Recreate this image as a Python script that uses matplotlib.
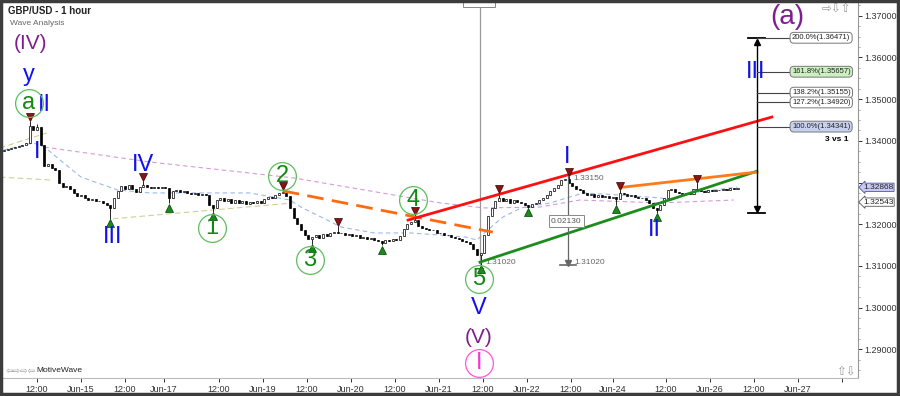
import numpy as np
import matplotlib.pyplot as plt
from matplotlib.patches import Rectangle
import matplotlib.transforms as mtransforms

plt.rcParams['font.family'] = ['Liberation Sans', 'DejaVu Sans']

# hourly GBP/USD candles (open of a bar = close of the bar before)
first_open = 1.3376
closes = [
    1.3378, 1.3380, 1.3383, 1.3385, 1.3388, 1.3391, 1.3395, 1.3435, 1.3425, 1.3432,
    1.3390, 1.3340, 1.3345, 1.3335, 1.3330, 1.3300, 1.3290, 1.3292, 1.3285, 1.3275,
    1.3268, 1.3270, 1.3262, 1.3258, 1.3260, 1.3255, 1.3256, 1.3252, 1.3245, 1.3240,
    1.3262, 1.3280, 1.3292, 1.3285, 1.3295, 1.3285, 1.3278, 1.3290, 1.3295, 1.3290,
    1.3288, 1.3290, 1.3287, 1.3289, 1.3286, 1.3262, 1.3280, 1.3282, 1.3278, 1.3280,
    1.3276, 1.3272, 1.3275, 1.3270, 1.3272, 1.3270, 1.3245, 1.3240, 1.3258, 1.3262,
    1.3255, 1.3260, 1.3252, 1.3258, 1.3250, 1.3255, 1.3248, 1.3253, 1.3250, 1.3256,
    1.3252, 1.3260, 1.3265, 1.3262, 1.3270, 1.3276, 1.3276, 1.3268, 1.3240, 1.3215,
    1.3200, 1.3185, 1.3175, 1.3165, 1.3170, 1.3175, 1.3168, 1.3176, 1.3172, 1.3178,
    1.3182, 1.3180, 1.3178, 1.3175, 1.3177, 1.3172, 1.3174, 1.3168, 1.3170, 1.3165,
    1.3167, 1.3162, 1.3160, 1.3155, 1.3162, 1.3160, 1.3165, 1.3163, 1.3172, 1.3188,
    1.3200, 1.3205, 1.3210, 1.3195, 1.3192, 1.3188, 1.3185, 1.3186, 1.3180, 1.3178,
    1.3175, 1.3173, 1.3170, 1.3167, 1.3164, 1.3160, 1.3158, 1.3152, 1.3140, 1.3125,
    1.3130, 1.3175, 1.3220, 1.3240, 1.3255, 1.3262, 1.3255, 1.3260, 1.3252, 1.3258,
    1.3254, 1.3250, 1.3246, 1.3242, 1.3248, 1.3252, 1.3258, 1.3264, 1.3270, 1.3280,
    1.3288, 1.3293, 1.3305, 1.3308, 1.3300, 1.3292, 1.3285, 1.3282, 1.3275, 1.3270,
    1.3272, 1.3266, 1.3270, 1.3265, 1.3268, 1.3262, 1.3265, 1.3260, 1.3275, 1.3272,
    1.3268, 1.3270, 1.3265, 1.3262, 1.3264, 1.3258, 1.3250, 1.3240, 1.3235, 1.3245,
    1.3262, 1.3282, 1.3285, 1.3278, 1.3275, 1.3272, 1.3276, 1.3273, 1.3285, 1.3282,
    1.3280, 1.3278, 1.3282, 1.3280, 1.3283, 1.3281, 1.3285, 1.3283, 1.3286, 1.3284,
    1.3287,
]
wick_hi = {7: 1.3447, 9: 1.3440, 38: 1.3303, 76: 1.3282, 91: 1.3195, 112: 1.3222,
           135: 1.3274, 154: 1.3315, 168: 1.3281, 189: 1.3299}
wick_lo = {29: 1.3212, 45: 1.3250, 57: 1.3229, 84: 1.3153, 103: 1.3149, 130: 1.3102,
           143: 1.3239, 167: 1.3246, 178: 1.3227}

# swing markers (bar indices)
top_marks = [7, 38, 76, 91, 112, 135, 154, 168, 189]
bottom_marks = [29, 45, 57, 84, 103, 130, 143, 167, 178]

# moving averages
ma_fast_x = [0, 8, 11, 21, 31, 40, 67, 78, 81, 92, 101, 111, 119, 126, 129, 131, 136,
             141, 149, 158, 168, 179, 182, 187, 200]
ma_fast_y = [1.3378, 1.3395, 1.3385, 1.3313, 1.3282, 1.3275, 1.3275, 1.3258, 1.3241,
             1.3193, 1.3179, 1.3179, 1.3174, 1.3169, 1.3162, 1.3179, 1.3217, 1.3239,
             1.3251, 1.3275, 1.3270, 1.3263, 1.3258, 1.3275, 1.3289]
ma_slow_x = [11, 40, 79, 119, 131, 146, 157, 179, 199]
ma_slow_y = [1.3385, 1.3349, 1.3311, 1.3251, 1.3239, 1.3241, 1.3258, 1.3251, 1.3258]
khaki_lines = [((-1.1, 11.7), (1.3383, 1.3419)),
               ((-1.1, 12.5), (1.3313, 1.3306)),
               ((29.7, 78.8), (1.3213, 1.3251))]

# trend lines
orange_dash = ((76, 133.3), (1.3280, 1.3181))
red_line = ((110.2, 209.4), (1.3210, 1.3457))
green_line = ((129.8, 205.3), (1.3109, 1.3327))
orange_line = ((168, 205.3), (1.3288, 1.3325))

# wave labels
purple_lbl = ['(IV)', '(V)', '(a)']
purple_x = [7.1, 129.5, 213.5]
purple_y = [1.3634, 1.2929, 1.3697]
purple_fs = [15, 15, 20]
blue_lbl = ['y', 'II', 'I', 'III', 'IV', 'V', 'I', 'II', 'III']
blue_x = [6.8, 11.0, 9.0, 29.7, 37.9, 129.5, 153.5, 177.5, 205.1]
blue_y = [1.3558, 1.3486, 1.3373, 1.3169, 1.3342, 1.2999, 1.3361, 1.3186, 1.3565]
green_lbl = ['a', '1', '2', '3', '4', '5']
green_x = [6.8, 56.7, 75.8, 83.4, 111.5, 129.5]
green_y = [1.3491, 1.3191, 1.3316, 1.3114, 1.3258, 1.3069]
pink_lbl = ['I']
pink_x = [129.5]
pink_y = [1.2867]

# fibonacci projection
fib_pct = ['200.0%', '161.8%', '138.2%', '127.2%', '100.0%']
fib_price = [1.36471, 1.35657, 1.35155, 1.34920, 1.34341]
fib_bg = ['white', '#cdf0c2', 'white', 'white', '#c8d0f0']
proj_x = 205.3
proj_low = 1.3227

# x axis
tick_pos = [9, 21, 33, 43.5, 58.5, 70.5, 82.5, 94.5, 106.5, 118.5, 130.5, 142.5,
            154.5, 166, 180.5, 192.5, 204.5, 216.5, 228.5]
tick_lbl = ['12:00', 'Jun-15', '12:00', 'Jun-17', '12:00', 'Jun-19', '12:00', 'Jun-20',
            '12:00', 'Jun-21', '12:00', 'Jun-22', '12:00', 'Jun-24', '12:00', 'Jun-26',
            '12:00', 'Jun-27', '']
price_ticks = [1.29, 1.30, 1.31, 1.32, 1.33, 1.34, 1.35, 1.36, 1.37]
# 1.33000 sits under the last-price tags
price_lbl = ['1.29000', '1.30000', '1.31000', '1.32000', '', '1.34000', '1.35000',
             '1.36000', '1.37000']

fig = plt.figure(figsize=(9, 3.96), dpi=100)
ax = fig.add_axes([2 / 900, 18 / 396, 856 / 900, 376 / 396])
ax.set_xlim(-0.55, 232.9)
ax.set_ylim(1.28312, 1.37329)

x = np.arange(len(closes))
o = np.array([first_open] + closes[:-1])
c = np.array(closes)
hi = np.array([wick_hi.get(i, max(o[i], c[i])) for i in x])
lo = np.array([wick_lo.get(i, min(o[i], c[i])) for i in x])

# indicators
ax.plot(ma_fast_x, ma_fast_y, color='#9cb8ee', lw=0.8, ls=(0, (4, 3)), zorder=1)
ax.plot(ma_slow_x, ma_slow_y, color='#d49ad8', lw=0.8, ls=(0, (4, 3)), zorder=1)
for kx, ky in khaki_lines:
    ax.plot(kx, ky, color='#cfcf98', lw=0.8, ls=(0, (5, 3)), zorder=1)

# candles
ax.vlines(x, lo, hi, color='black', lw=0.6, zorder=3)
body_bot = np.minimum(o, c)
body_h = np.maximum(np.abs(c - o), 0.00008)
bull = c >= o
ax.bar(x[bull], body_h[bull], bottom=body_bot[bull], width=0.62, color='white',
       edgecolor='black', linewidth=0.5, zorder=4)
ax.bar(x[~bull], body_h[~bull], bottom=body_bot[~bull], width=0.62, color='black',
       edgecolor='black', linewidth=0.5, zorder=4)

# trend lines
ax.plot(*orange_dash, color='#ff6a10', lw=2, ls=(0, (6, 3)), zorder=5)
ax.plot(*red_line, color='#ff1010', lw=2, zorder=5)
ax.plot(*green_line, color='#1c8c1c', lw=2, zorder=5)
ax.plot(*orange_line, color='#ff7a18', lw=2, zorder=5)

# swing markers
ax.plot(top_marks, hi[top_marks] + 0.0010, ls='none', marker='v', ms=6,
        mfc='#8a1414', mec='#3a0000', mew=0.5, zorder=6)
ax.plot(bottom_marks, lo[bottom_marks] - 0.0010, ls='none', marker='^', ms=6,
        mfc='#1a8a1a', mec='#004000', mew=0.5, zorder=6)

# vertical marker at wave 5 low
ax.plot([129.8, 129.8], [lo[130], 1.3732], color='#999999', lw=0.9, zorder=2)
ax.add_patch(Rectangle((125.2, 1.3722), 8.7, 0.0012, fc='white', ec='#888888', lw=0.7,
                       clip_on=False, zorder=2))

# measure from wave I high to wave 5 low
mx = 153.8
ax.plot([mx, mx], [hi[154], lo[130] + 0.0004], color='#666666', lw=0.9, zorder=5)
ax.plot([mx - 2.2, mx + 2.2], [lo[130], lo[130]], color='#666666', lw=1.2, zorder=5)
ax.plot([mx], [lo[130] + 0.0006], marker='v', ms=5, color='#666666', zorder=5)
ax.text(mx - 0.5, 1.32077, '%.5f' % (hi[154] - lo[130]), fontsize=6, color='#555555',
        ha='center', va='center', zorder=7,
        bbox=dict(boxstyle='square,pad=0.25', fc='white', ec='#888888', lw=0.7))
ax.text(mx + 1.6, hi[154] - 0.0006, '%.5f' % hi[154], fontsize=6, color='#666666',
        ha='left', va='center', zorder=7)
ax.text(mx + 1.8, lo[130] + 0.0006, '%.5f' % lo[130], fontsize=6, color='#666666',
        ha='left', va='center', zorder=7)
ax.text(131.4, lo[130] + 0.0006, '%.5f' % lo[130], fontsize=6, color='#666666',
        ha='left', va='center', zorder=2)

# projection arrow and fib levels
ax.plot([proj_x, proj_x], [proj_low + 0.0005, fib_price[0] - 0.0005], color='black', lw=1, zorder=5)
ax.plot([proj_x - 2.3, proj_x + 2.3], [fib_price[0]] * 2, color='black', lw=1.3, zorder=5)
ax.plot([proj_x - 2.3, proj_x + 2.3], [proj_low] * 2, color='black', lw=1.3, zorder=5)
ax.plot([proj_x], [fib_price[0] - 0.0009], marker='^', ms=5, color='black', zorder=5)
ax.plot([proj_x], [proj_low + 0.0009], marker='v', ms=5, color='black', zorder=5)
for pct, pr, bg in zip(fib_pct, fib_price, fib_bg):
    ax.plot([proj_x, 214.4], [pr, pr], color='#444444', lw=0.8, zorder=5)
    ax.text(214.9, pr, '%s(%.5f)' % (pct, pr), fontsize=5.5, color='#222222',
            ha='left', va='center', zorder=7,
            bbox=dict(boxstyle='round,pad=0.25,rounding_size=0.5', fc=bg, ec='#777777', lw=0.7))
ax.text(230.4, 1.3402, '3 vs 1', fontsize=6, fontweight='bold', ha='right', va='center')

# wave labels
for t, lx, ly, fs in zip(purple_lbl, purple_x, purple_y, purple_fs):
    ax.text(lx, ly, t, color='#7f1f8f', fontsize=fs, ha='center', va='center', zorder=8)
for t, lx, ly in zip(blue_lbl, blue_x, blue_y):
    ax.text(lx, ly, t, color='#1010f0', fontsize=17, ha='center', va='center', zorder=8)
ax.plot(green_x, green_y, ls='none', marker='o', ms=20, mfc='none', mec='#5cbf5c', mew=0.9, zorder=8)
for t, lx, ly in zip(green_lbl, green_x, green_y):
    ax.text(lx, ly, t, color='#108a10', fontsize=17, ha='center', va='center', zorder=9)
ax.plot(pink_x, pink_y, ls='none', marker='o', ms=20, mfc='none', mec='#ff55dd', mew=0.9, zorder=8)
for t, lx, ly in zip(pink_lbl, pink_x, pink_y):
    ax.text(lx, ly, t, color='#ff33cc', fontsize=17, ha='center', va='center', zorder=9)

# header / footer texts
ax.text(0.007, 0.976, 'GBP/USD - 1 hour', transform=ax.transAxes, fontsize=7,
        fontweight='bold', color='#222222', ha='left', va='center')
ax.text(0.009, 0.9415, 'Wave Analysis', transform=ax.transAxes, fontsize=6,
        color='#666666', ha='left', va='center')
ax.text(0.004, 0.019, '\u21e6\u21e8\u21e8\u21e6', transform=ax.transAxes, fontsize=6.5,
        color='#999999', ha='left', va='center', family='DejaVu Sans')
ax.text(0.040, 0.019, 'MotiveWave', transform=ax.transAxes, fontsize=6,
        color='#222222', ha='left', va='center')
ax.text(0.958, 0.984, '\u21e8\u21e9\u21e7', transform=ax.transAxes, fontsize=8.5,
        color='#999999', ha='left', va='center', family='DejaVu Sans')
ax.text(0.974, 0.019, '\u21e7\u21e9', transform=ax.transAxes, fontsize=8.5,
        color='#999999', ha='left', va='center', family='DejaVu Sans')

# last price tags
trans = mtransforms.blended_transform_factory(ax.transAxes, ax.transData)
ax.text(1.006, 1.32530, '1.32543', transform=trans, fontsize=6, color='#222222',
        ha='left', va='center', clip_on=False,
        bbox=dict(boxstyle='larrow,pad=0.08', fc='white', ec='#555555', lw=0.6))
ax.text(1.006, 1.32885, '1.32868', transform=trans, fontsize=6, color='#222222',
        ha='left', va='center', clip_on=False,
        bbox=dict(boxstyle='larrow,pad=0.08', fc='#c8c8f4', ec='#555599', lw=0.6))

# axes styling
for s in ['top', 'left']:
    ax.spines[s].set_visible(False)
ax.spines['right'].set_color('#999999')
ax.spines['bottom'].set_color('#bbbbbb')
ax.yaxis.tick_right()
ax.set_yticks(price_ticks)
ax.set_yticklabels(price_lbl)
ax.set_yticks(np.arange(1.285, 1.3726, 0.0025), minor=True)
ax.set_xticks(tick_pos)
ax.set_xticklabels(tick_lbl)
ax.tick_params(axis='both', labelsize=6.5, colors='#333333', length=3, width=0.7, pad=1.5)
ax.tick_params(axis='y', which='minor', length=1.5, color='#999999')
ax.tick_params(axis='x', pad=2)

# outer frame
fig.patches.append(Rectangle((0.0015, 0.004), 0.996, 0.993, transform=fig.transFigure,
                             fill=False, ec='#3c3c3c', lw=2.5))

fig.savefig('out.png', dpi=100)
